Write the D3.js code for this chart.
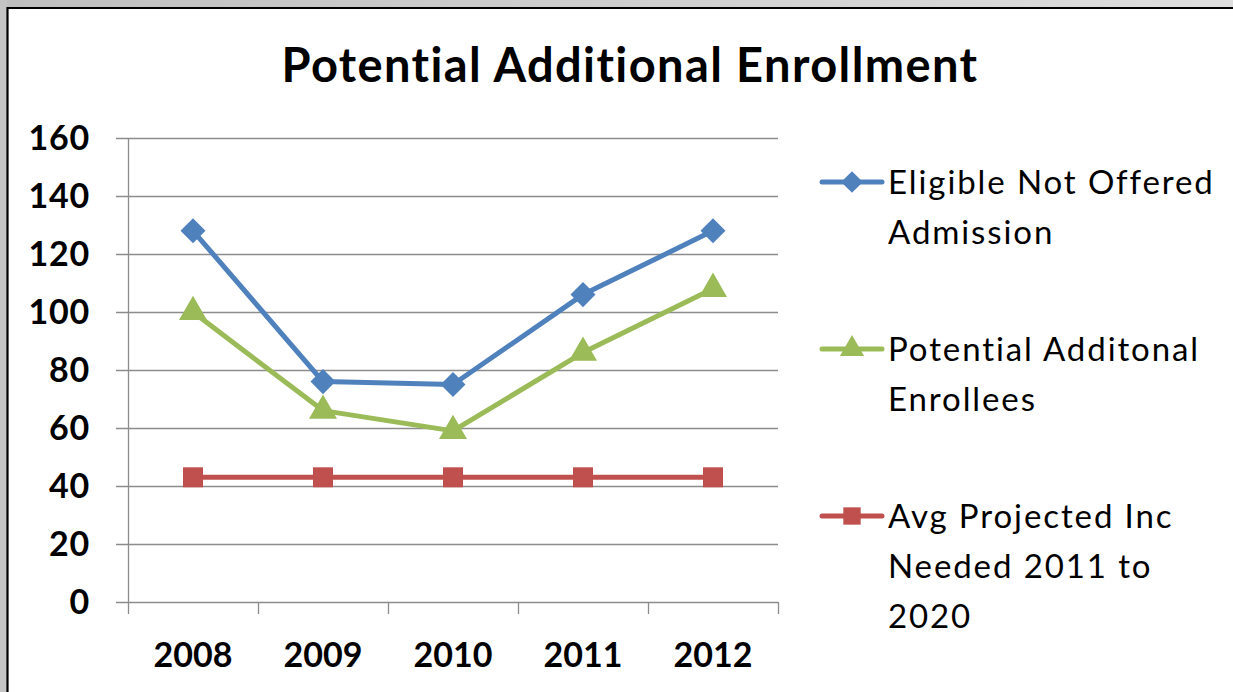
<!DOCTYPE html>
<html>
<head>
<meta charset="utf-8">
<script src="https://cdn.jsdelivr.net/npm/d3@7"></script>
<style>
  html, body { margin: 0; padding: 0; background: #fff; }
  svg { display: block; }
  text { font-family: Lato, "Open Sans", sans-serif; fill: #000; }
</style>
</head>
<body>
<svg id="chart" width="1233" height="692"></svg>
<script>
const years = ["2008", "2009", "2010", "2011", "2012"];
const eligibleNotOffered = [128, 76, 75, 106, 128];
const potentialEnrollees = [100, 66, 59, 86, 108];
const avgProjectedInc = [43, 43, 43, 43, 43];
const yTicks = [0, 20, 40, 60, 80, 100, 120, 140, 160];
const seriesNames = [
  ["Eligible Not Offered", "Admission"],
  ["Potential Additonal", "Enrollees"],
  ["Avg Projected Inc", "Needed 2011 to", "2020"]
];
const seriesColors = ["#4f81bd", "#9bbb59", "#c0504d"];
const seriesShapes = [d3.symbolDiamond2, d3.symbolTriangle, d3.symbolSquare];
const seriesValues = [eligibleNotOffered, potentialEnrollees, avgProjectedInc];

const W = 1233, H = 692;
const svg = d3.select("#chart");

// window frame: grey strip with gradient across the top, grey strip down the left
const defs = svg.append("defs");
const grad = defs.append("linearGradient").attr("id", "topband").attr("x1", 0).attr("x2", 1);
grad.append("stop").attr("offset", 0).attr("stop-color", "#bfbfbf");
grad.append("stop").attr("offset", 1).attr("stop-color", "#dedede");
svg.append("rect").attr("x", 0).attr("y", 0).attr("width", W).attr("height", 7).attr("fill", "url(#topband)");
svg.append("rect").attr("x", 0).attr("y", 0).attr("width", 7).attr("height", H).attr("fill", "#c4c4c4");
svg.append("line").attr("x1", 7).attr("x2", W).attr("y1", 8).attr("y2", 8).attr("stroke", "#000").attr("stroke-width", 2.2);
svg.append("line").attr("x1", 7.5).attr("x2", 7.5).attr("y1", 7).attr("y2", H).attr("stroke", "#000").attr("stroke-width", 2.2);

// title
svg.append("text")
  .attr("x", 630).attr("y", 82)
  .attr("text-anchor", "middle")
  .attr("font-weight", "bold")
  .attr("font-size", 47)
  .attr("letter-spacing", 1.4)
  .text("Potential Additional Enrollment");

// plot area
const plotLeft = 128, plotRight = 778, plotTop = 138, plotBottom = 602;
const x = d3.scaleBand().domain(years).range([plotLeft, plotRight]);
const y = d3.scaleLinear().domain([0, 160]).range([plotBottom, plotTop]);

const grid = svg.append("g");
grid.selectAll("line").data(yTicks).join("line")
  .attr("x1", plotLeft - 12).attr("x2", plotRight)
  .attr("y1", d => Math.round(y(d)) + 0.5).attr("y2", d => Math.round(y(d)) + 0.5)
  .attr("stroke", "#8c8c8c").attr("stroke-width", 1.3);

// y axis line
svg.append("line")
  .attr("x1", plotLeft + 0.5).attr("x2", plotLeft + 0.5)
  .attr("y1", plotTop).attr("y2", plotBottom)
  .attr("stroke", "#8c8c8c").attr("stroke-width", 1.3);

// x axis tick marks at category boundaries
const bounds = years.map(d => x(d)).concat([plotRight]);
svg.append("g").selectAll("line").data(bounds).join("line")
  .attr("x1", d => Math.round(d) + 0.5).attr("x2", d => Math.round(d) + 0.5)
  .attr("y1", plotBottom).attr("y2", plotBottom + 12)
  .attr("stroke", "#8c8c8c").attr("stroke-width", 1.3);

// y tick labels
svg.append("g").selectAll("text").data(yTicks).join("text")
  .attr("x", 90).attr("y", d => y(d))
  .attr("dy", "0.36em")
  .attr("text-anchor", "end")
  .attr("font-weight", "bold")
  .attr("font-size", 34)
  .attr("letter-spacing", 0.8)
  .text(d => d);

// x tick labels
svg.append("g").selectAll("text").data(years).join("text")
  .attr("x", d => x(d) + x.bandwidth() / 2).attr("y", 667)
  .attr("text-anchor", "middle")
  .attr("font-weight", "bold")
  .attr("font-size", 34)
  .text(d => d);

// series lines and markers
const line = d3.line()
  .x((d, i) => x(years[i]) + x.bandwidth() / 2)
  .y(d => y(d));

const markerSizes = [400, 340, 400];

seriesValues.forEach((vals, s) => {
  svg.append("path")
    .datum(vals)
    .attr("d", line)
    .attr("fill", "none")
    .attr("stroke", seriesColors[s])
    .attr("stroke-width", 5)
    .attr("stroke-linejoin", "round");
  svg.append("g").selectAll("path").data(vals).join("path")
    .attr("transform", (d, i) => `translate(${x(years[i]) + x.bandwidth() / 2},${y(d)})`)
    .attr("d", d3.symbol().type(seriesShapes[s]).size(markerSizes[s]))
    .attr("fill", seriesColors[s]);
});

// legend
const legendY = [182, 349, 516];
seriesNames.forEach((lines, s) => {
  const g = svg.append("g").attr("transform", `translate(0,${legendY[s]})`);
  g.append("line").attr("x1", 822).attr("x2", 882).attr("y1", 0).attr("y2", 0)
    .attr("stroke", seriesColors[s]).attr("stroke-width", 5).attr("stroke-linecap", "round");
  g.append("path").attr("transform", "translate(852,0)")
    .attr("d", d3.symbol().type(seriesShapes[s]).size(markerSizes[s] * 0.75))
    .attr("fill", seriesColors[s]);
  lines.forEach((t, k) => {
    g.append("text").attr("x", 888).attr("y", 12 + k * 50)
      .attr("font-size", 33)
      .attr("letter-spacing", 1.9)
      .text(t);
  });
});
</script>
</body>
</html>
